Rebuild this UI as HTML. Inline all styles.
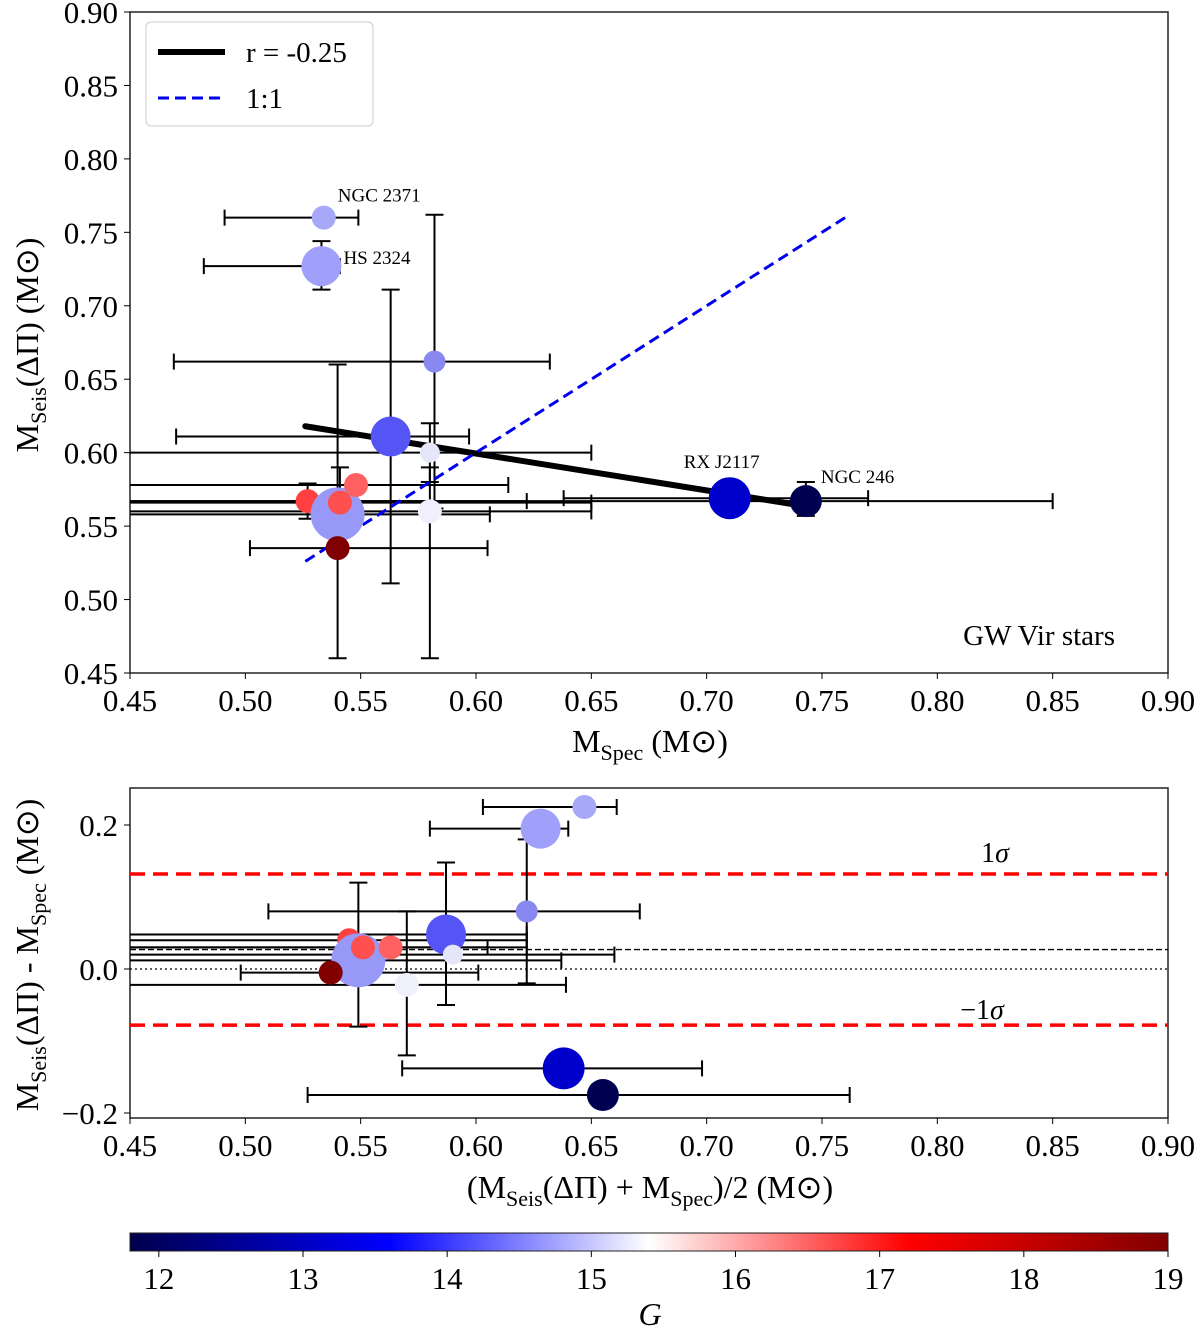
<!DOCTYPE html>
<html><head><meta charset="utf-8"><style>
body{margin:0;background:#fff}
svg{font-family:"Liberation Serif",serif}
</style></head><body>
<svg id="c" width="1200" height="1329" viewBox="0 0 1200 1329" xmlns="http://www.w3.org/2000/svg">
<defs><linearGradient id="cb" x1="0" x2="1" y1="0" y2="0">
<stop offset="0" stop-color="#00004c"/><stop offset="0.25" stop-color="#0000ff"/><stop offset="0.5" stop-color="#ffffff"/><stop offset="0.75" stop-color="#ff0000"/><stop offset="1" stop-color="#800000"/></linearGradient></defs>
</svg>
<script>
// top panel data: x, y, radius-class, color, xlo, xhi, ylo, yhi
const topX=[0.534,0.533,0.582,0.563,0.580,0.710,0.743,0.527,0.540,0.541,0.548,0.540,0.580];
const topY=[0.760,0.727,0.662,0.611,0.600,0.569,0.567,0.567,0.558,0.566,0.578,0.535,0.560];
const topXlo=[0.491,0.482,0.469,0.470,0.40,0.638,0.40,0.40,0.40,0.40,0.40,0.502,0.40];
const topXhi=[0.549,0.541,0.632,0.597,0.650,0.770,0.850,0.622,0.606,0.650,0.614,0.605,0.650];
const topYlo=[0.760,0.711,0.562,0.511,0.580,0.569,0.557,0.555,0.460,0.590,0.578,0.535,0.460];
const topYhi=[0.760,0.744,0.762,0.711,0.620,0.569,0.580,0.579,0.660,0.560,0.578,0.535,0.590];
const botX=[0.647,0.628,0.622,0.587,0.590,0.638,0.655,0.545,0.549,0.551,0.563,0.537,0.570];
const botY=[0.225,0.195,0.080,0.048,0.020,-0.138,-0.175,0.040,0.012,0.030,0.030,-0.005,-0.022];
const botXlo=[0.603,0.580,0.510,0.40,0.40,0.568,0.527,0.40,0.40,0.40,0.40,0.498,0.40];
const botXhi=[0.661,0.640,0.671,0.622,0.660,0.698,0.762,0.622,0.637,0.605,0.622,0.601,0.639];
const botYlo=[0.225,0.195,-0.020,-0.050,0.020,-0.138,-0.175,0.040,-0.080,0.030,0.030,-0.005,-0.120];
const botYhi=[0.225,0.195,0.180,0.148,0.020,-0.138,-0.175,0.040,0.120,0.030,0.030,-0.005,0.080];
const sizes=[12,20,11,20,10,21,16,12,27,12,12,12,12];
const colors=["#a8a8f8","#a0a0fa","#8888f0","#5555f5","#e6e6fa","#0000cc","#000050","#ff4040","#9898f8","#ff5050","#ff6060","#800000","#f0f0fc"];
const labels=[["NGC 2371",0],["HS 2324",1],["RX J2117",5],["NGC 246",6]];
const xTicks=[0.45,0.50,0.55,0.60,0.65,0.70,0.75,0.80,0.85,0.90];
const yTicksTop=[0.45,0.50,0.55,0.60,0.65,0.70,0.75,0.80,0.85,0.90];
const yTicksBot=[-0.2,0.0,0.2];
const cbTicks=[12,13,14,15,16,17,18,19];
const fitLine=[[0.526,0.618],[0.745,0.563]];
const oneToOne=[0.526,0.76];
const sigma=[0.132,-0.078], meanDiff=0.027;

const S=document.getElementById('c'),NS="http://www.w3.org/2000/svg";
function el(t,a,txt){const e=document.createElementNS(NS,t);for(const k in a)e.setAttribute(k,a[k]);if(txt!==undefined)e.textContent=txt;S.appendChild(e);return e;}
const L=130,R=1168;
const X=v=>L+(v-0.45)/0.45*(R-L);
const YT=v=>12+(0.90-v)/0.45*661;
const YB=v=>969-v*720;
function clipx(v){return Math.max(L,Math.min(R,X(v)));}
function errbars(xs,ys,xl,xh,yl,yh,Y,name){
  for(let i=0;i<xs.length;i++){
    const a=clipx(xl[i]),b=clipx(xh[i]),y=Y(ys[i]);
    let e=el('line',{x1:a,x2:b,y1:y,y2:y,stroke:'#000','stroke-width':2});
    
    if(xl[i]>=0.45)el('line',{x1:a,x2:a,y1:y-8,y2:y+8,stroke:'#000','stroke-width':2});
    if(xh[i]<=0.90)el('line',{x1:b,x2:b,y1:y-8,y2:y+8,stroke:'#000','stroke-width':2});
    if(yl[i]!==yh[i]){const x=X(xs[i]),p=Y(yl[i]),q=Y(yh[i]);
      e=el('line',{x1:x,x2:x,y1:p,y2:q,stroke:'#000','stroke-width':2});
      
      el('line',{x1:x-9,x2:x+9,y1:p,y2:p,stroke:'#000','stroke-width':2});
      el('line',{x1:x-9,x2:x+9,y1:q,y2:q,stroke:'#000','stroke-width':2});}
  }
}
function pts(xs,ys,Y,name){for(let i=0;i<xs.length;i++){const e=el('circle',{cx:X(xs[i]),cy:Y(ys[i]),r:sizes[i],fill:colors[i]});
  }}
function axes(top,bot,yt,Y,fmt,name){
  let e=el('rect',{x:L,y:top,width:R-L,height:bot-top,fill:'none',stroke:'#222','stroke-width':1.5});
  
  xTicks.forEach(t=>{el('line',{x1:X(t),x2:X(t),y1:bot,y2:bot+6,stroke:'#000'});
    e=el('text',{x:X(t),y:bot+38,'font-size':31,'text-anchor':'middle'},t.toFixed(2));
    });
  yt.forEach(t=>{el('line',{x1:L-6,x2:L,y1:Y(t),y2:Y(t),stroke:'#000'});
    e=el('text',{x:L-12,y:Y(t)+11,'font-size':31,'text-anchor':'end'},fmt(t));
    });
}
// TOP
axes(12,673,yTicksTop,YT,t=>t.toFixed(2),'top');
errbars(topX,topY,topXlo,topXhi,topYlo,topYhi,YT,'top');
let e=el('line',{x1:X(fitLine[0][0]),y1:YT(fitLine[0][1]),x2:X(fitLine[1][0]),y2:YT(fitLine[1][1]),stroke:'#000','stroke-width':6,'stroke-linecap':'round'});

e=el('line',{x1:X(oneToOne[0]),y1:YT(oneToOne[0]),x2:X(oneToOne[1]),y2:YT(oneToOne[1]),stroke:'#0000ee','stroke-width':3,'stroke-dasharray':'11 6'});

pts(topX,topY,YT,'top');
labels.forEach(([t,i])=>{const dx=i==5?-5:(i==6?15:2),dy=i==5?-30:(i==6?-18:(i==0?-16:-2));
  e=el('text',{x:X(topX[i])+dx+(i==5?-3:0),y:YT(topY[i])+dy,'font-size':19,'text-anchor':i==5?'middle':'start'},t);
  if(i==0)e.setAttribute('x',X(topX[i])+14);if(i==1)e.setAttribute('x',X(topX[i])+22);
  });
e=el('text',{x:1115,y:645,'font-size':29,'text-anchor':'end'},'GW Vir stars');

e=el('rect',{x:146,y:22,width:227,height:104,rx:5,fill:'#fff',stroke:'#ccc'});

el('line',{x1:158,x2:225,y1:52,y2:52,stroke:'#000','stroke-width':6});
e=el('text',{x:246,y:62,'font-size':29},'r = -0.25');
el('line',{x1:158,x2:225,y1:98,y2:98,stroke:'#0000ee','stroke-width':3,'stroke-dasharray':'11 6'});
e=el('text',{x:246,y:108,'font-size':29},'1:1');
e=el('text',{x:650,y:752,'font-size':32,'text-anchor':'middle'});e.innerHTML='M<tspan font-size="22" dy="8">Spec</tspan><tspan dy="-8"> (M</tspan>⊙)';

e=el('text',{transform:'translate(38,345) rotate(-90)','font-size':32,'text-anchor':'middle'});e.innerHTML='M<tspan font-size="22" dy="8">Seis</tspan><tspan dy="-8">(ΔΠ) (M</tspan>⊙)';

// BOTTOM
axes(788,1118,yTicksBot,YB,t=>t==0?'0.0':(t<0?'−':'')+Math.abs(t).toFixed(1),'bottom');
sigma.forEach(s=>{e=el('line',{x1:L,x2:R,y1:YB(s),y2:YB(s),stroke:'#f00','stroke-width':3.5,'stroke-dasharray':'15 8'});
  });
e=el('line',{x1:L,x2:R,y1:YB(meanDiff),y2:YB(meanDiff),stroke:'#000','stroke-width':1.3,'stroke-dasharray':'6 3'});
e=el('line',{x1:L,x2:R,y1:YB(0),y2:YB(0),stroke:'#000','stroke-width':1.3,'stroke-dasharray':'2 3'});
e=el('text',{x:995,y:862,'font-size':28,'text-anchor':'middle'});e.innerHTML='1<tspan font-style="italic">σ</tspan>';
e=el('text',{x:982,y:1019,'font-size':28,'text-anchor':'middle'});e.innerHTML='−1<tspan font-style="italic">σ</tspan>';
errbars(botX,botY,botXlo,botXhi,botYlo,botYhi,YB,'bottom');
pts(botX,botY,YB,'bottom');
e=el('text',{x:650,y:1198,'font-size':32,'text-anchor':'middle'});e.innerHTML='(M<tspan font-size="22" dy="8">Seis</tspan><tspan dy="-8">(ΔΠ) + M</tspan><tspan font-size="22" dy="8">Spec</tspan><tspan dy="-8">)/2 (M</tspan>⊙)';

e=el('text',{transform:'translate(38,955) rotate(-90)','font-size':32,'text-anchor':'middle'});e.innerHTML='M<tspan font-size="22" dy="8">Seis</tspan><tspan dy="-8">(ΔΠ) - M</tspan><tspan font-size="22" dy="8">Spec</tspan><tspan dy="-8"> (M</tspan>⊙)';

// COLORBAR
e=el('rect',{x:L,y:1233,width:R-L,height:18,fill:'url(#cb)',stroke:'#222'});
const CX=v=>L+(v-11.8)/7.2*(R-L);
cbTicks.forEach(t=>{el('line',{x1:CX(t),x2:CX(t),y1:1251,y2:1257,stroke:'#000'});
  e=el('text',{x:CX(t),y:1289,'font-size':31,'text-anchor':'middle'},t);});
e=el('text',{x:650,y:1325,'font-size':32,'font-style':'italic','text-anchor':'middle'},'G');
</script>
</body></html>
